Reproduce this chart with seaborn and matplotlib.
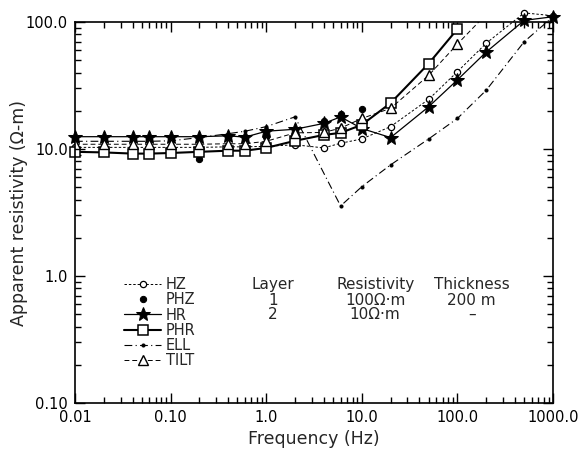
import matplotlib
matplotlib.use("Agg")
import matplotlib.pyplot as plt
import seaborn as sns
import pandas as pd
import numpy as np
from matplotlib.ticker import LogLocator, FixedLocator, FixedFormatter, NullFormatter

# ---- data ----
freq_full = [0.01, 0.02, 0.04, 0.06, 0.1, 0.2, 0.4, 0.6, 1, 2, 4, 6, 10, 20, 50, 100, 200, 500, 1000]

hz_vals = [10.3, 10.3, 10.3, 10.3, 10.3, 10.3, 10.4, 10.4, 10.5, 10.8, 10.2, 11.1, 12.0, 15.0, 24.6, 40.6, 68.0, 118.0, 112.0]
hr_vals = [12.5, 12.5, 12.5, 12.5, 12.5, 12.5, 12.7, 12.4, 13.8, 14.3, 15.9, 17.9, 14.5, 12.3, 21.5, 35.0, 58.0, 103.0, 110.0]
ell_freq = [0.01, 0.02, 0.04, 0.06, 0.1, 0.2, 0.4, 0.6, 1, 2, 6, 10, 20, 50, 100, 200, 500, 1000]
ell_vals = [11.5, 11.5, 11.5, 11.5, 11.6, 12.3, 13.2, 13.8, 15.0, 17.9, 3.56, 5.05, 7.5, 12.0, 17.4, 29.0, 70.0, 110.0]

phz_freq = [0.01, 0.02, 0.04, 0.06, 0.1, 0.2, 0.4, 0.6, 1, 2, 4, 6, 10]
phz_vals = [12.0, 12.0, 12.0, 12.0, 12.0, 8.4, 12.5, 12.3, 12.5, 13.0, 16.7, 18.8, 20.6]

phr_freq = [0.01, 0.02, 0.04, 0.06, 0.1, 0.2, 0.4, 0.6, 1, 2, 4, 6, 10, 20, 50, 100]
phr_vals = [9.5, 9.4, 9.2, 9.2, 9.3, 9.5, 9.7, 9.7, 10.2, 11.6, 12.9, 13.4, 15.5, 23.0, 47.0, 88.0]

tilt_freq = [0.01, 0.02, 0.04, 0.06, 0.1, 0.2, 0.4, 0.6, 1, 2, 4, 6, 10, 20, 50, 100, 200]
tilt_vals = [10.9, 10.9, 10.9, 10.9, 10.9, 10.9, 11.0, 11.0, 11.5, 13.4, 13.5, 14.6, 17.4, 20.9, 38.0, 67.0, 115.0]

x_ticks = [0.01, 0.1, 1, 10, 100, 1000]
x_tick_labels = ["0.01", "0.10", "1.0", "10.0", "100.0", "1000.0"]
y_ticks = [0.1, 1, 10, 100]
y_tick_labels = ["0.10", "1.0", "10.0", "100.0"]

table_header = ["Layer", "Resistivity", "Thickness"]
table_rows = [["1", "100\u03a9\u00b7m", "200 m"], ["2", "10\u03a9\u00b7m", "\u2013"]]

# ---- style ----
sns.set_style("ticks")
plt.rcParams['font.family'] = ['DejaVu Sans']
plt.rcParams['font.size'] = 10

fig = plt.figure(figsize=(5.86, 4.57), dpi=100)
ax = fig.add_axes([75/586, 54/457, 478/586, 381/457])

def df(f, v):
    return pd.DataFrame({"f": f, "v": v})

k = dict(color="black", ax=ax, legend=False, estimator=None)

sns.lineplot(data=df(freq_full, hz_vals), x="f", y="v", marker="o", markersize=4.5,
             markerfacecolor="white", markeredgecolor="black", markeredgewidth=0.9,
             linestyle=(0, (2.5, 2)), linewidth=0.7, label="HZ", clip_on=False, **k)
sns.lineplot(data=df(phz_freq, phz_vals), x="f", y="v", marker="o", markersize=4.5,
             markerfacecolor="black", markeredgecolor="black",
             linestyle="none", label="PHZ", clip_on=False, **k)
sns.lineplot(data=df(freq_full, hr_vals), x="f", y="v", marker="*", markersize=10,
             markerfacecolor="black", markeredgecolor="black",
             linestyle="-", linewidth=0.9, label="HR", clip_on=False, **k)
sns.lineplot(data=df(phr_freq, phr_vals), x="f", y="v", marker="s", markersize=6.5,
             markerfacecolor="white", markeredgecolor="black", markeredgewidth=1.1,
             linestyle="-", linewidth=1.5, label="PHR", clip_on=False, **k)
sns.lineplot(data=df(ell_freq, ell_vals), x="f", y="v", marker="o", markersize=2.2,
             markerfacecolor="black", markeredgecolor="black",
             linestyle=(0, (7, 3, 1, 3)), linewidth=0.8, label="ELL", clip_on=False, **k)
sns.lineplot(data=df(tilt_freq, tilt_vals), x="f", y="v", marker="^", markersize=7,
             markerfacecolor="white", markeredgecolor="black", markeredgewidth=1.0,
             linestyle=(0, (5, 3)), linewidth=0.7, label="TILT", clip_on=True, **k)

ax.set_xscale("log")
ax.set_yscale("log")
ax.set_xlim(0.01, 1000)
ax.set_ylim(0.1, 100)

ax.xaxis.set_major_locator(FixedLocator(x_ticks))
ax.xaxis.set_major_formatter(FixedFormatter(x_tick_labels))
ax.yaxis.set_major_locator(FixedLocator(y_ticks))
ax.yaxis.set_major_formatter(FixedFormatter(y_tick_labels))
ax.xaxis.set_minor_locator(LogLocator(base=10, subs=np.arange(2, 10)))
ax.yaxis.set_minor_locator(LogLocator(base=10, subs=np.arange(2, 10)))
ax.xaxis.set_minor_formatter(NullFormatter())
ax.yaxis.set_minor_formatter(NullFormatter())

ax.tick_params(which="both", direction="in", top=True, right=True, width=1.0, colors="black",
               labelsize=10.5)
ax.tick_params(which="major", length=7, pad=5)
ax.tick_params(which="minor", length=4)
for s in ax.spines.values():
    s.set_linewidth(1.2)
    s.set_color("black")

ax.set_xlabel("Frequency (Hz)", fontsize=12.5, labelpad=4)
ax.set_ylabel("Apparent resistivity (\u03a9-m)", fontsize=12.5)
ax.yaxis.set_label_coords(-0.098, 0.5)

leg = ax.legend(loc="upper left", bbox_to_anchor=(0.088, 0.35), frameon=False,
                fontsize=10.5, handlelength=2.5, handletextpad=0.35, labelspacing=0.02,
                numpoints=1, borderpad=0)

col_x = [0.414, 0.628, 0.83]
for c, xx in zip(table_header, col_x):
    ax.text(xx, 0.31, c, transform=ax.transAxes, ha="center", va="center", fontsize=11)
row_y = [0.27, 0.233]
for r, yy in zip(table_rows, row_y):
    for c, xx in zip(r, col_x):
        ax.text(xx, yy, c, transform=ax.transAxes, ha="center", va="center", fontsize=11)

fig.savefig("out.png", dpi=100)
